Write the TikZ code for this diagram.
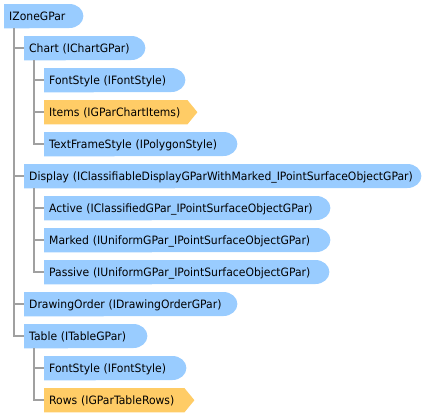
\documentclass[tikz,border=0pt]{standalone}
\usepackage{fontspec}
\setmainfont[FakeStretch=0.94]{DejaVu Sans}
\usetikzlibrary{backgrounds}
\definecolor{gblue}{RGB}{153,204,255}
\definecolor{gorange}{RGB}{255,204,102}
\definecolor{gline}{RGB}{160,160,160}
\begin{document}
\begin{tikzpicture}[x=1pt,y=1pt,
  gbox/.style={anchor=north west, minimum height=24pt, inner xsep=5pt, inner ysep=0pt,
    text width=#1pt, align=left, text height=8.3pt, text depth=0pt,
    font=\fontsize{11.5}{13}\selectfont},
  tree/.style={draw=gline, line width=2pt}]
\useasboundingbox (0,0) rectangle (425,-416);
\node[gbox=69]  (root)    at (4,-4)   {\mbox{IZoneGPar}};
\node[gbox=111] (chart)   at (24,-36) {\mbox{Chart (IChartGPar)}};
\node[gbox=131] (fs1)     at (44,-68) {\mbox{FontStyle (IFontStyle)}};
\node[gbox=143] (items)   at (44,-100) {\mbox{Items (IGParChartItems)}};
\node[gbox=183] (tfs)     at (44,-132) {\mbox{TextFrameStyle (IPolygonStyle)}};
\node[gbox=387] (display) at (24,-164) {\mbox{Display (IClassifiableDisplayGParWithMarked\_IPointSurfaceObjectGPar)}};
\node[gbox=276] (active)  at (44,-196) {\mbox{Active (IClassifiedGPar\_IPointSurfaceObjectGPar)}};
\node[gbox=276] (marked)  at (44,-228) {\mbox{Marked (IUniformGPar\_IPointSurfaceObjectGPar)}};
\node[gbox=275] (passive) at (44,-260) {\mbox{Passive (IUniformGPar\_IPointSurfaceObjectGPar)}};
\node[gbox=203] (drawing) at (24,-292) {\mbox{DrawingOrder (IDrawingOrderGPar)}};
\node[gbox=113] (table)   at (24,-324) {\mbox{Table (ITableGPar)}};
\node[gbox=132] (fs2)     at (44,-356) {\mbox{FontStyle (IFontStyle)}};
\node[gbox=140] (rows)    at (44,-388) {\mbox{Rows (IGParTableRows)}};
\begin{scope}[on background layer]
  \foreach \n in {root,chart,fs1,tfs,display,active,marked,passive,drawing,table,fs2}
    \fill[gblue] (\n.north west) -- ([xshift=-14pt]\n.north east)
      arc[start angle=90, end angle=-90, x radius=14pt, y radius=12pt]
      -- (\n.south west) -- cycle;
  \foreach \n in {items,rows}
    \fill[gorange] (\n.north west) -- ([xshift=-10pt]\n.north east) -- (\n.east)
      -- ([xshift=-10pt]\n.south east) -- (\n.south west) -- cycle;
\end{scope}
\foreach \c in {chart,display,drawing,table}
  \draw[tree] ([xshift=10pt]root.south west) |- (\c.west);
\foreach \c in {fs1,items,tfs}
  \draw[tree] ([xshift=10pt]chart.south west) |- (\c.west);
\foreach \c in {active,marked,passive}
  \draw[tree] ([xshift=10pt]display.south west) |- (\c.west);
\foreach \c in {fs2,rows}
  \draw[tree] ([xshift=10pt]table.south west) |- (\c.west);
\end{tikzpicture}
\end{document}
